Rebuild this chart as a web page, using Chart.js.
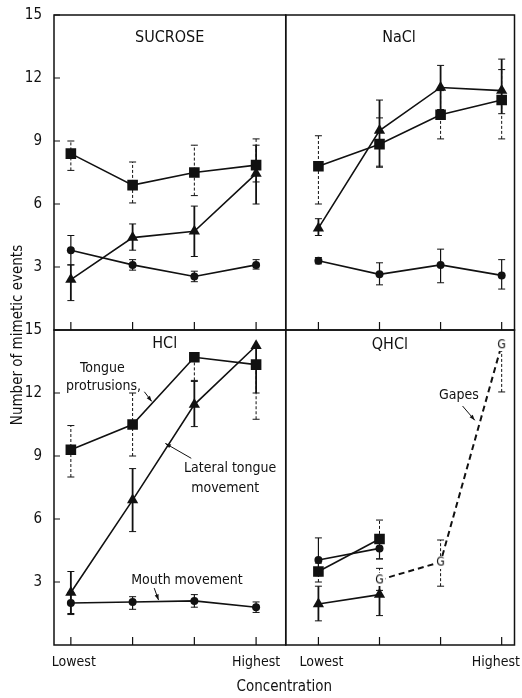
<!DOCTYPE html>
<html>
<head>
<meta charset="utf-8">
<script src="https://cdn.jsdelivr.net/npm/chart.js@4.4.1/dist/chart.umd.min.js"></script>
<style>
  html, body { margin: 0; padding: 0; background: #fff; }
</style>
</head>
<body>
<canvas id="mimetic" width="522" height="698"></canvas>
<script>
(() => {
  'use strict'

  const FONT = '"Liberation Sans Narrow", "DejaVu Sans Condensed", "Liberation Sans", sans-serif';
  const INK = '#111';

  // concentration steps, 0 = lowest .. 3 = highest
  const concSteps = [0, 1, 2, 3];
  const concLabels = ['Lowest', '', '', 'Highest'];
  const yTicks = [3, 6, 9, 12, 15];

  // SUCROSE
  const sucTongue = [8.4, 6.9, 7.5, 7.85];
  const sucTongueLo = [7.6, 6.05, 6.4, 7.05];
  const sucTongueHi = [9.0, 8.0, 8.8, 9.1];
  const sucLateral = [2.4, 4.4, 4.7, 7.45];
  const sucLateralLo = [1.4, 3.8, 3.5, 6.0];
  const sucLateralHi = [3.1, 5.05, 5.9, 8.8];
  const sucMouth = [3.8, 3.1, 2.55, 3.1];
  const sucMouthLo = [3.1, 2.85, 2.3, 2.9];
  const sucMouthHi = [4.5, 3.35, 2.8, 3.35];

  // NaCl
  const naclTongue = [7.8, 8.85, 10.25, 10.95];
  const naclTongueLo = [6.0, 7.75, 9.1, 9.1];
  const naclTongueHi = [9.25, 10.1, 11.4, 12.4];
  const naclLateral = [4.85, 9.5, 11.55, 11.4];
  const naclLateralLo = [4.5, 7.8, 10.5, 10.3];
  const naclLateralHi = [5.3, 10.95, 12.6, 12.9];
  const naclMouth = [3.3, 2.65, 3.1, 2.6];
  const naclMouthLo = [3.15, 2.15, 2.25, 1.95];
  const naclMouthHi = [3.45, 3.2, 3.85, 3.35];

  // HCl
  const hclTongue = [9.3, 10.5, 13.7, 13.35];
  const hclTongueLo = [8.0, 9.0, 12.6, 10.75];
  const hclTongueHi = [10.45, 12.0, 13.9, 13.35];
  const hclLateral = [2.5, 6.9, 11.45, 14.25];
  const hclLateralLo = [1.5, 5.4, 10.4, 12.0];
  const hclLateralHi = [3.5, 8.4, 12.55, 14.25];
  const hclMouth = [2.0, 2.05, 2.1, 1.8];
  const hclMouthLo = [1.45, 1.7, 1.8, 1.55];
  const hclMouthHi = [2.5, 2.3, 2.4, 2.05];

  // QHCl
  const qTongue = [3.5, 5.05, null, null];
  const qTongueLo = [3.0, 4.1, null, null];
  const qTongueHi = [3.9, 5.95, null, null];
  const qLateral = [1.95, 2.4, null, null];
  const qLateralLo = [1.15, 1.4, null, null];
  const qLateralHi = [2.8, 3.4, null, null];
  const qMouth = [4.05, 4.6, null, null];
  const qMouthLo = [3.3, 4.1, null, null];
  const qMouthHi = [5.1, 4.9, null, null];
  const qGapes = [null, 3.1, 3.95, 14.3];
  const qGapesLo = [null, 2.6, 2.8, 12.05];
  const qGapesHi = [null, 3.65, 5.0, 14.3];

  // "G" marker for gapes
  const gMark = document.createElement('canvas');
  gMark.width = 11; gMark.height = 13;
  const g = gMark.getContext('2d');
  g.fillStyle = '#fff';
  g.fillRect(0, 0, 11, 13);
  g.fillStyle = '#000';
  g.font = '12px ' + FONT;
  g.textAlign = 'center';
  g.textBaseline = 'middle';
  g.fillText('G', 5.5, 7);

  const looks = {
    tongue:  { pointStyle: 'rect', pointRadius: 7.5, errDash: [3, 2], errWidth: 1 },
    lateral: { pointStyle: 'triangle', pointRadius: 6.5, errDash: [], errWidth: 1.8 },
    mouth:   { pointStyle: 'circle', pointRadius: 4, errDash: [], errWidth: 1.2 },
    gapes:   { pointStyle: gMark, pointRadius: 6, errDash: [3, 2], errWidth: 1, borderDash: [6, 4], borderWidth: 2 }
  };

  const series = (label, kind, xAxisID, yAxisID, values, lo, hi) => Object.assign({
    label: label,
    xAxisID: xAxisID,
    yAxisID: yAxisID,
    data: concSteps.map((x, i) => ({ x: x, y: values[i] })),
    errLo: lo,
    errHi: hi,
    borderColor: INK,
    backgroundColor: INK,
    borderWidth: 1.6,
    pointBorderWidth: 0,
    showLine: true,
    tension: 0
  }, looks[kind]);

  const datasets = [
    series('Tongue protrusions', 'tongue', 'xL', 'yT', sucTongue, sucTongueLo, sucTongueHi),
    series('Lateral tongue movement', 'lateral', 'xL', 'yT', sucLateral, sucLateralLo, sucLateralHi),
    series('Mouth movement', 'mouth', 'xL', 'yT', sucMouth, sucMouthLo, sucMouthHi),
    series('Tongue protrusions', 'tongue', 'xR', 'yT', naclTongue, naclTongueLo, naclTongueHi),
    series('Lateral tongue movement', 'lateral', 'xR', 'yT', naclLateral, naclLateralLo, naclLateralHi),
    series('Mouth movement', 'mouth', 'xR', 'yT', naclMouth, naclMouthLo, naclMouthHi),
    series('Tongue protrusions', 'tongue', 'xL', 'yB', hclTongue, hclTongueLo, hclTongueHi),
    series('Lateral tongue movement', 'lateral', 'xL', 'yB', hclLateral, hclLateralLo, hclLateralHi),
    series('Mouth movement', 'mouth', 'xL', 'yB', hclMouth, hclMouthLo, hclMouthHi),
    series('Gapes', 'gapes', 'xR', 'yB', qGapes, qGapesLo, qGapesHi),
    series('Tongue protrusions', 'tongue', 'xR', 'yB', qTongue, qTongueLo, qTongueHi),
    series('Lateral tongue movement', 'lateral', 'xR', 'yB', qLateral, qLateralLo, qLateralHi),
    series('Mouth movement', 'mouth', 'xR', 'yB', qMouth, qMouthLo, qMouthHi)
  ];

  const panels = [['xL', 'yT'], ['xR', 'yT'], ['xL', 'yB'], ['xR', 'yB']];

  // text notes, placed in data units of a panel
  const notes = [
    { text: 'SUCROSE', x: 'xL', y: 'yT', at: [1.6, 13.9], size: 16 },
    { text: 'NaCl', x: 'xR', y: 'yT', at: [1.32, 13.9], size: 16 },
    { text: 'HCl', x: 'xL', y: 'yB', at: [1.52, 14.33], size: 16 },
    { text: 'QHCl', x: 'xR', y: 'yB', at: [1.17, 14.29], size: 16 },
    { text: 'Tongue', x: 'xL', y: 'yB', at: [0.51, 13.18], size: 14 },
    { text: 'protrusions,', x: 'xL', y: 'yB', at: [0.53, 12.3], size: 14 },
    { text: 'Lateral tongue', x: 'xL', y: 'yB', at: [2.58, 8.41], size: 14 },
    { text: 'movement', x: 'xL', y: 'yB', at: [2.5, 7.46], size: 14 },
    { text: 'Mouth movement', x: 'xL', y: 'yB', at: [1.88, 3.1], size: 14 },
    { text: 'Gapes', x: 'xR', y: 'yB', at: [2.3, 11.9], size: 14 }
  ];

  const arrows = [
    { x: 'xL', y: 'yB', from: [1.19, 12.06], to: [1.31, 11.6] },
    { x: 'xL', y: 'yB', from: [1.95, 8.89], to: [1.53, 9.6] },
    { x: 'xL', y: 'yB', from: [1.35, 2.71], to: [1.42, 2.14] },
    { x: 'xR', y: 'yB', from: [2.36, 11.38], to: [2.56, 10.7] }
  ];

  const decor = {
    id: 'decor',
    beforeDatasetsDraw(chart) {
      const ctx = chart.ctx;
      chart.data.datasets.forEach((ds, i) => {
        const meta = chart.getDatasetMeta(i);
        const xs = chart.scales[meta.xAxisID];
        const ys = chart.scales[meta.yAxisID];
        ctx.save();
        ctx.strokeStyle = INK;
        ctx.lineWidth = ds.errWidth;
        ds.data.forEach((p, j) => {
          if (p.y == null) return;
          const px = xs.getPixelForValue(p.x);
          const lo = ys.getPixelForValue(ds.errLo[j]);
          const hi = ys.getPixelForValue(ds.errHi[j]);
          ctx.setLineDash(ds.errDash);
          ctx.beginPath();
          ctx.moveTo(px, lo);
          ctx.lineTo(px, hi);
          ctx.stroke();
          ctx.setLineDash([]);
          ctx.lineWidth = 1;
          ctx.beginPath();
          if (Math.abs(ds.errLo[j] - p.y) > 0.05) { ctx.moveTo(px - 3.5, lo); ctx.lineTo(px + 3.5, lo); }
          if (Math.abs(ds.errHi[j] - p.y) > 0.05) { ctx.moveTo(px - 3.5, hi); ctx.lineTo(px + 3.5, hi); }
          ctx.stroke();
          ctx.lineWidth = ds.errWidth;
        });
        ctx.restore();
      });
    },
    afterDatasetsDraw(chart) {
      const ctx = chart.ctx;
      const s = chart.scales;
      ctx.save();
      ctx.strokeStyle = INK;
      ctx.fillStyle = INK;

      // panel frames and inward ticks
      panels.forEach(([xi, yi]) => {
        const xs = s[xi], ys = s[yi];
        ctx.lineWidth = 1.5;
        ctx.strokeRect(xs.left, ys.top, xs.right - xs.left, ys.bottom - ys.top);
        ctx.lineWidth = 1.2;
        ctx.beginPath();
        concSteps.forEach(v => {
          const px = xs.getPixelForValue(v);
          ctx.moveTo(px, ys.bottom);
          ctx.lineTo(px, ys.bottom - 8);
        });
        if (xi === 'xL') {
          yTicks.forEach(v => {
            const py = ys.getPixelForValue(v);
            ctx.moveTo(xs.left, py);
            ctx.lineTo(xs.left + 6, py);
          });
        }
        ctx.stroke();
      });

      // x tick labels under the bottom panels
      ctx.font = '14px ' + FONT;
      ctx.textAlign = 'center';
      ctx.textBaseline = 'middle';
      ['xL', 'xR'].forEach(xi => {
        concSteps.forEach((v, i) => {
          if (!concLabels[i]) return;
          const w = ctx.measureText(concLabels[i]).width;
          let cx = s[xi].getPixelForValue(v) + (i === 0 ? 3 : 0);
          cx = Math.min(cx, chart.width - 2 - w / 2);
          ctx.fillText(concLabels[i], cx, s.yB.bottom + 17);
        });
      });

      notes.forEach(n => {
        ctx.font = n.size + 'px ' + FONT;
        ctx.fillText(n.text, s[n.x].getPixelForValue(n.at[0]), s[n.y].getPixelForValue(n.at[1]));
      });

      arrows.forEach(a => {
        const x1 = s[a.x].getPixelForValue(a.from[0]), y1 = s[a.y].getPixelForValue(a.from[1]);
        const x2 = s[a.x].getPixelForValue(a.to[0]), y2 = s[a.y].getPixelForValue(a.to[1]);
        const ang = Math.atan2(y2 - y1, x2 - x1);
        ctx.lineWidth = 1;
        ctx.beginPath();
        ctx.moveTo(x1, y1);
        ctx.lineTo(x2, y2);
        ctx.stroke();
        ctx.beginPath();
        ctx.moveTo(x2, y2);
        ctx.lineTo(x2 - 6 * Math.cos(ang - 0.35), y2 - 6 * Math.sin(ang - 0.35));
        ctx.lineTo(x2 - 6 * Math.cos(ang + 0.35), y2 - 6 * Math.sin(ang + 0.35));
        ctx.closePath();
        ctx.fill();
      });

      // shared axis titles
      ctx.font = '15px ' + FONT;
      ctx.fillText('Concentration', (s.xL.left + s.xR.right) / 2, chart.height - 11);
      ctx.translate(18, (s.yT.top + s.yB.bottom) / 2 + 5);
      ctx.rotate(-Math.PI / 2);
      ctx.fillText('Number of mimetic events', 0, 0);
      ctx.restore();
    }
  };

  const yAxis = (weight) => ({
    type: 'linear',
    position: 'left',
    stack: 'events',
    stackWeight: 1,
    weight: weight,
    min: 0,
    max: 15,
    afterFit: (scale) => { scale.width = 54; },
    grid: { display: false },
    border: { display: false },
    ticks: {
      stepSize: 3,
      padding: 4,
      color: INK,
      font: { family: FONT, size: 15 },
      callback: (v) => (yTicks.includes(v) ? v : '')
    }
  });

  const xAxis = (weight, size, min, max) => ({
    type: 'linear',
    position: 'bottom',
    stack: 'conc',
    stackWeight: size,
    weight: weight,
    min: min,
    max: max,
    afterFit: (scale) => { scale.height = 0; },
    grid: { display: false },
    border: { display: false },
    ticks: { display: false }
  });

  const ctx = document.getElementById('mimetic').getContext('2d');

  new Chart(ctx, {
    type: 'line',
    data: { datasets: datasets },
    options: {
      responsive: false,
      animation: false,
      layout: { padding: { top: 15, right: 3, bottom: 53, left: 0 } },
      plugins: { legend: { display: false }, tooltip: { enabled: false } },
      scales: {
        yT: yAxis(1),
        yB: yAxis(0),
        xL: xAxis(0, 234, -0.273, 3.48),
        xR: xAxis(1, 231, -0.535, 3.21)
      }
    },
    plugins: [decor]
  });
})()
</script>
</body>
</html>
